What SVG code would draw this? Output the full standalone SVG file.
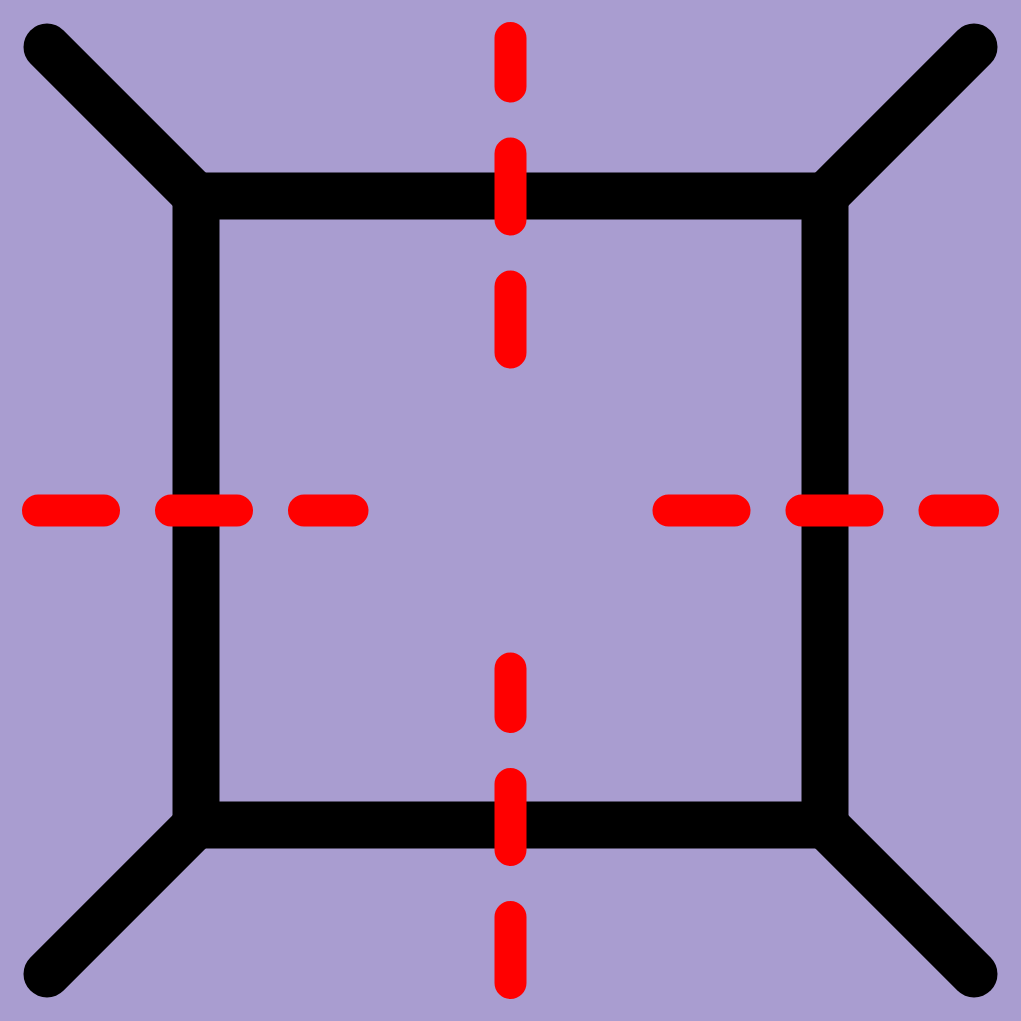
<svg xmlns="http://www.w3.org/2000/svg" width="1021" height="1021" viewBox="0 0 1021 1021">
<style>
.blk{stroke:#000;stroke-width:47;fill:none;stroke-linecap:round}
.red{stroke:#f00;stroke-width:32;fill:none;stroke-linecap:round;stroke-dasharray:66 67}
</style>
<rect width="1021" height="1021" fill="#a99dd0"/>
<g id="frame">
<line class="blk" x1="47" y1="47" x2="196" y2="196"/>
<line class="blk" x1="974" y1="47" x2="825" y2="196"/>
<line class="blk" x1="47" y1="974" x2="196" y2="825"/>
<line class="blk" x1="974" y1="974" x2="825" y2="825"/>
<rect x="196" y="196" width="629" height="629" style="stroke:#000;stroke-width:47;fill:none;stroke-linejoin:miter"/>
</g>
<g id="axes">
<line class="red" x1="38" y1="510.5" x2="352.5" y2="510.5"/>
<line class="red" x1="668.5" y1="510.5" x2="983" y2="510.5"/>
<line class="red" x1="510.5" y1="352.5" x2="510.5" y2="38"/>
<line class="red" x1="510.5" y1="983" x2="510.5" y2="668.5"/>
</g>
</svg>
